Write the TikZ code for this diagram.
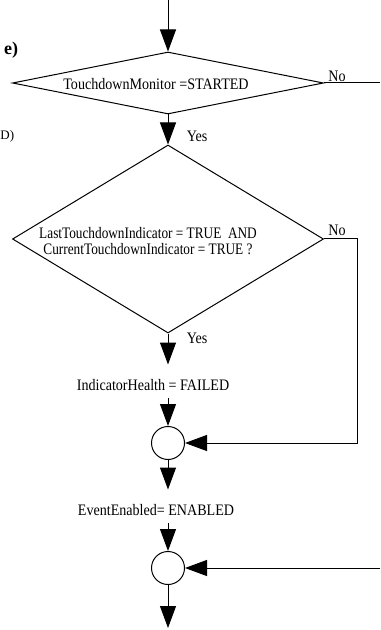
\documentclass[tikz,border=0pt]{standalone}
\usepackage{fontspec}
\setmainfont{Liberation Serif}
\newfontfamily\chartfont[FakeStretch=0.88]{Liberation Serif}
\newfontfamily\tightfont[FakeStretch=0.83]{Liberation Serif}
\usetikzlibrary{arrows.meta,shapes.geometric,positioning}

\tikzset{
  decision/.style={diamond,draw,inner sep=0pt},
  junction/.style={circle,draw,minimum size=16.5pt,inner sep=0pt},
  action/.style={text height=9.3pt,text depth=0pt,inner ysep=3.35pt},
  flow/.style={-{Triangle[length=11pt,width=8pt]}},
}

\begin{document}
\begin{tikzpicture}[x=0.5pt,y=-0.5pt,line width=0.5pt,
    every node/.append style={font=\chartfont\fontsize{8}{10}\selectfont}]
  \useasboundingbox (0,0) rectangle (380,630);

  % cut off text at the left border
  \node[anchor=west,font=\bfseries\fontsize{9}{10}\selectfont] (frag1) at (-3,50) {e)};
  \node[anchor=west,inner sep=0pt,font=\fontsize{6.5}{8}\selectfont] (frag2) at (0,136) {D)};

  % decisions
  \node[decision,minimum width=155.5pt,minimum height=31pt] (mon) at (168,83) {};
  \node (monq) at (156,84) {TouchdownMonitor =STARTED};
  \node[decision,minimum width=155.5pt,minimum height=94pt] (both) at (168,239) {};
  \node[align=center,font=\tightfont\fontsize{8}{8}\selectfont] (bothq) at (148,241)
    {LastTouchdownIndicator = TRUE\ \ AND\\CurrentTouchdownIndicator = TRUE ?};

  % actions and junctions
  \node[action] (fail) at (153,381) {IndicatorHealth = FAILED};
  \node[junction] (j1) at (168,443) {};
  \node[action] (evt) at (156,506) {EventEnabled= ENABLED};
  \node[junction] (j2) at (168,568) {};

  \coordinate (entry) at (168,0);
  \coordinate (exitno) at (380,83);
  \coordinate (loopin) at (380,568);
  \coordinate (exitbot) at (168,628);

  \draw[flow] (entry) -- (mon.north);
  \draw (mon.east) -- (exitno);
  \node (no1) at (337,76) {No};

  \draw[flow] (mon.south) -- (both.north);
  \node (yes1) at (197,136) {Yes};

  \draw[flow] (both.east) -- ++(33,0) |- (j1);
  \node (no2) at (337,230) {No};

  \draw[flow] (both.south) -- (both.south |- fail.north);
  \node (yes2) at (197,338) {Yes};
  \draw[flow] (fail.south -| j1.north) -- (j1.north);
  \draw[flow] (j1.south) -- (j1.south |- evt.north);
  \draw[flow] (evt.south -| j2.north) -- (j2.north);
  \draw[flow] (loopin) -- (j2);
  \draw[flow] (j2) -- (exitbot);
\end{tikzpicture}
\end{document}
